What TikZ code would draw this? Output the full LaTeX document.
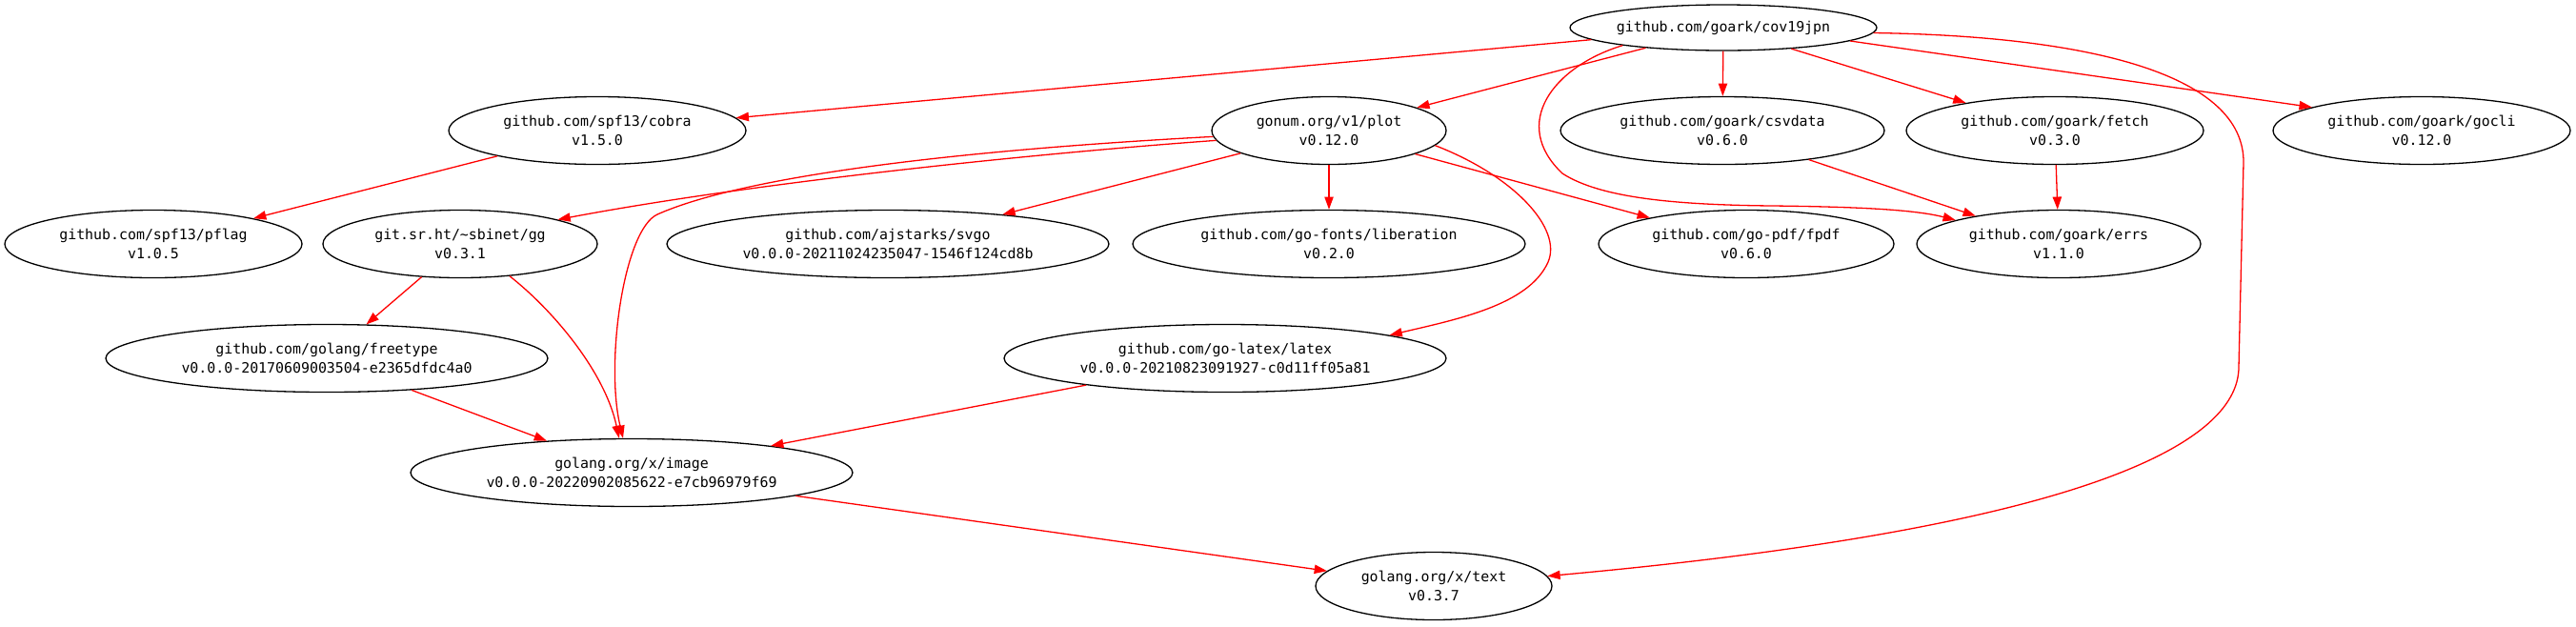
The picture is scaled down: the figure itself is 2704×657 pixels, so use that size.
\documentclass[tikz,border=0pt]{standalone}
\usepackage{fontspec}
\setmonofont{DejaVu Sans Mono}
\usetikzlibrary{shapes.geometric,arrows.meta}
\begin{document}
\begin{tikzpicture}[x=1pt,y=-1pt,
  dep/.style={ellipse,draw=black,line width=1.3pt,inner sep=0pt,align=center,
    font=\ttfamily\fontsize{14.9}{20}\selectfont,minimum height=71pt},
  edge/.style={draw=red,line width=1.3pt,-{Triangle[length=13.3pt,width=9.3pt]}}]
\useasboundingbox (0,0) rectangle (2704,657);
% nodes
\node[dep,minimum width=322pt,minimum height=48pt] (cov) at (1809,29) {github.com/goark/cov19jpn};
\node[dep,minimum width=312pt] (cobra) at (627,137) {github.com/spf13/cobra\\v1.5.0};
\node[dep,minimum width=246pt] (plot) at (1395,137) {gonum.org/v1/plot\\v0.12.0};
\node[dep,minimum width=340pt] (csvdata) at (1808,137) {github.com/goark/csvdata\\v0.6.0};
\node[dep,minimum width=312pt] (fetch) at (2157,137) {github.com/goark/fetch\\v0.3.0};
\node[dep,minimum width=312pt] (gocli) at (2542,137) {github.com/goark/gocli\\v0.12.0};
\node[dep,minimum width=312pt] (pflag) at (161,256) {github.com/spf13/pflag\\v1.0.5};
\node[dep,minimum width=288pt] (gg) at (483,256) {git.sr.ht/\textasciitilde sbinet/gg\\v0.3.1};
\node[dep,minimum width=464pt] (svgo) at (932,256) {github.com/ajstarks/svgo\\v0.0.0-20211024235047-1546f124cd8b};
\node[dep,minimum width=412pt] (liberation) at (1395,256) {github.com/go-fonts/liberation\\v0.2.0};
\node[dep,minimum width=310pt] (fpdf) at (1833,256) {github.com/go-pdf/fpdf\\v0.6.0};
\node[dep,minimum width=298pt] (errs) at (2161,256) {github.com/goark/errs\\v1.1.0};
\node[dep,minimum width=464pt] (freetype) at (343,376) {github.com/golang/freetype\\v0.0.0-20170609003504-e2365dfdc4a0};
\node[dep,minimum width=464pt] (latex) at (1286,376) {github.com/go-latex/latex\\v0.0.0-20210823091927-c0d11ff05a81};
\node[dep,minimum width=464pt] (image) at (663,496) {golang.org/x/image\\v0.0.0-20220902085622-e7cb96979f69};
\node[dep,minimum width=248pt] (text) at (1505,615) {golang.org/x/text\\v0.3.7};
% edges from cov19jpn
\draw[edge] (cov) -- (cobra);
\draw[edge] (cov) -- (plot);
\draw[edge] (cov) -- (csvdata);
\draw[edge] (cov) -- (fetch);
\draw[edge] (cov.-6) -- (gocli.168);
\draw[edge] (cov.190) .. controls (1630,70) and (1585,130) .. (1640,182)
  .. controls (1680,208) and (1760,215) .. (1860,216)
  .. controls (1950,217) and (2010,220) .. (errs.167);
\draw[edge] (cov.358) .. controls (2200,38) and (2355,80) .. (2355,170)
  -- (2350,385) .. controls (2350,470) and (2170,555) .. (text.5);
% cobra
\draw[edge] (cobra) -- (pflag);
% plot
\draw[edge] (plot.185) .. controls (1100,160) and (800,190) .. (gg.14);
\draw[edge] (plot.183) .. controls (1000,158) and (780,185) .. (690,225)
  .. controls (655,241) and (635,380) .. (image.104);
\draw[edge] (plot) -- (svgo);
\draw[edge] (plot) -- (liberation);
\draw[edge] (plot) -- (fpdf);
\draw[edge] (plot.-8) .. controls (1590,185) and (1640,240) .. (1625,275)
  .. controls (1605,320) and (1530,335) .. (latex.8);
% others
\draw[edge] (csvdata) -- (errs);
\draw[edge] (fetch) -- (errs);
\draw[edge] (gg) -- (freetype);
\draw[edge] (gg.-33) .. controls (580,325) and (635,390) .. (image.110);
\draw[edge] (freetype) -- (image);
\draw[edge] (latex) -- (image);
\draw[edge] (image) -- (text);
\end{tikzpicture}
\end{document}
